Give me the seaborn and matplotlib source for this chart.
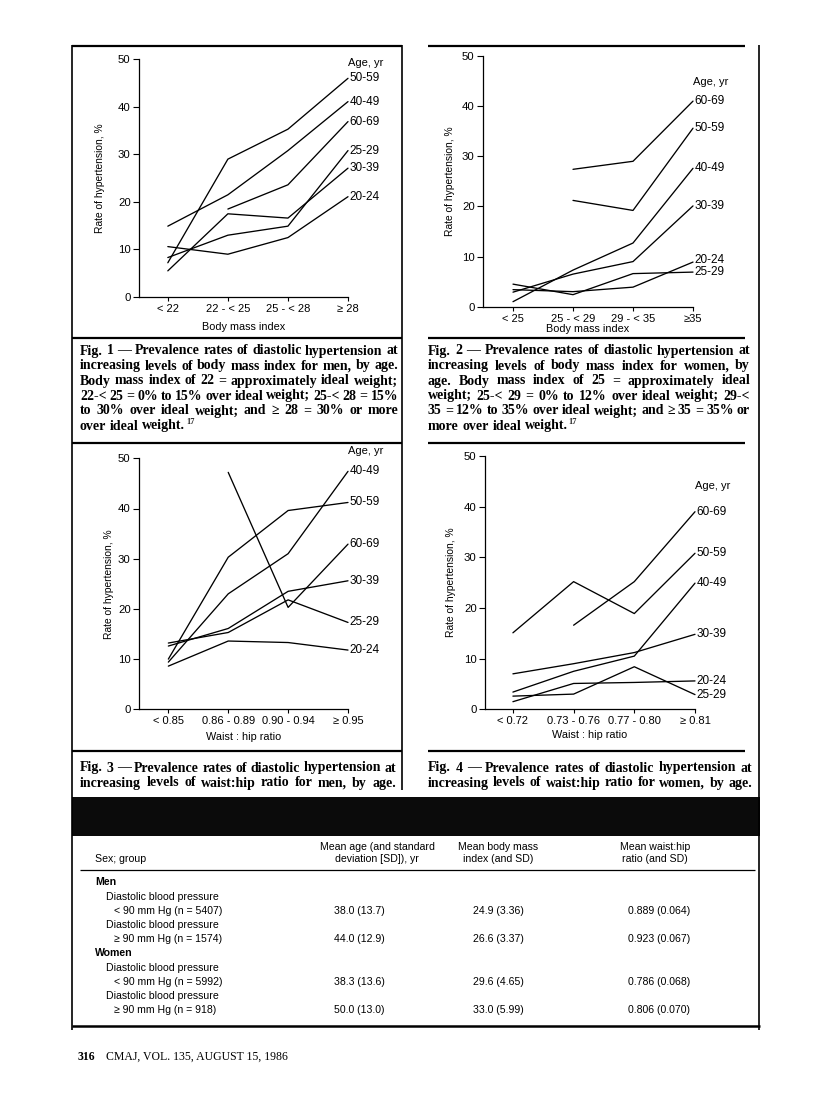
import numpy as np
import pandas as pd
import matplotlib
matplotlib.use("Agg")
import matplotlib.pyplot as plt
import seaborn as sns
from matplotlib import font_manager

# age groups, same in all four figures
ages = ["20-24", "25-29", "30-39", "40-49", "50-59", "60-69"]

# Fig 1 - men, body mass index (rate of hypertension, %)
bmi_men_levels = ["< 22", "22 - < 25", "25 - < 28", "≥ 28"]
bmi_men = {
    "20-24": [10.6, 9.0, 12.5, 21.1],
    "25-29": [8.3, 13.0, 14.9, 30.8],
    "30-39": [5.5, 17.5, 16.6, 27.1],
    "40-49": [14.9, 21.5, 30.8, 41.1],
    "50-59": [7.2, 29.0, 35.3, 46.0],
    "60-69": [np.nan, 18.5, 23.6, 36.9],
}

# Fig 2 - women, body mass index
bmi_women_levels = ["< 25", "25 - < 29", "29 - < 35", "≥35"]
bmi_women = {
    "20-24": [3.4, 3.0, 3.9, 8.9],
    "25-29": [4.5, 2.4, 6.6, 6.9],
    "30-39": [2.9, 6.5, 9.0, 20.1],
    "40-49": [1.0, 7.3, 12.7, 27.6],
    "50-59": [np.nan, 21.2, 19.2, 35.6],
    "60-69": [np.nan, 27.4, 29.0, 41.0],
}

# Fig 3 - men, waist:hip ratio
whr_men_levels = ["< 0.85", "0.86 - 0.89", "0.90 - 0.94", "≥ 0.95"]
whr_men = {
    "20-24": [8.6, 13.6, 13.3, 11.8],
    "25-29": [13.2, 15.3, 21.8, 17.3],
    "30-39": [12.6, 16.1, 23.5, 25.6],
    "40-49": [9.4, 23.0, 31.0, 47.4],
    "50-59": [10.0, 30.3, 39.6, 41.2],
    "60-69": [np.nan, 47.2, 20.3, 32.9],
}

# Fig 4 - women, waist:hip ratio
whr_women_levels = ["< 0.72", "0.73 - 0.76", "0.77 - 0.80", "≥ 0.81"]
whr_women = {
    "20-24": [1.5, 5.1, 5.3, 5.6],
    "25-29": [2.6, 3.0, 8.4, 2.9],
    "30-39": [7.0, 9.0, 11.2, 14.8],
    "40-49": [3.4, 7.5, 10.5, 24.9],
    "50-59": [15.1, 25.2, 18.9, 30.8],
    "60-69": [np.nan, 16.6, 25.2, 39.0],
}

# table
table_head = ["Sex; group",
              "Mean age (and standard\ndeviation [SD]), yr",
              "Mean body mass\nindex (and SD)",
              "Mean waist:hip\nratio (and SD)"]
table_groups = ["< 90 mm Hg (n = 5407)", "≥ 90 mm Hg (n = 1574)",
                "< 90 mm Hg (n = 5992)", "≥ 90 mm Hg (n = 918)"]
mean_age = ["38.0 (13.7)", "44.0 (12.9)", "38.3 (13.6)", "50.0 (13.0)"]
mean_bmi = ["24.9 (3.36)", "26.6 (3.37)", "29.6 (4.65)", "33.0 (5.99)"]
mean_whr = ["0.889 (0.064)", "0.923 (0.067)", "0.786 (0.068)", "0.806 (0.070)"]

cap1 = ["Fig. 1 — Prevalence rates of diastolic hypertension at",
        "increasing levels of body mass index for men, by age.",
        "Body mass index of 22 = approximately ideal weight;",
        "22-< 25 = 0% to 15% over ideal weight; 25-< 28 = 15%",
        "to 30% over ideal weight; and ≥ 28 = 30% or more",
        "over ideal weight.^17"]
cap2 = ["Fig. 2 — Prevalence rates of diastolic hypertension at",
        "increasing levels of body mass index for women, by",
        "age. Body mass index of 25 = approximately ideal",
        "weight; 25-< 29 = 0% to 12% over ideal weight; 29-<",
        "35 = 12% to 35% over ideal weight; and ≥ 35 = 35% or",
        "more over ideal weight.^17"]
cap3 = ["Fig. 3 — Prevalence rates of diastolic hypertension at",
        "increasing levels of waist:hip ratio for men, by age."]
cap4 = ["Fig. 4 — Prevalence rates of diastolic hypertension at",
        "increasing levels of waist:hip ratio for women, by age."]

sns.set_theme(style="white")
names = {f.name for f in font_manager.fontManager.ttflist}
narrow = "Liberation Sans Narrow" if "Liberation Sans Narrow" in names else "Liberation Sans"
plt.rcParams["font.family"] = [narrow, "DejaVu Sans"]

W, H = 816, 1100
fig = plt.figure(figsize=(W / 100, H / 100), dpi=100)
fig.patch.set_facecolor("white")

# page overlay in pixel coordinates
page = fig.add_axes([0, 0, 1, 1], zorder=-1)
page.set_xlim(0, W)
page.set_ylim(H, 0)
page.axis("off")


def rule(x0, x1, y, lw=1.6):
    page.plot([x0, x1], [y, y], color="black", lw=lw, solid_capstyle="butt")


def vline(x, y0, y1, lw=1.2):
    page.plot([x, x], [y0, y1], color="black", lw=lw, solid_capstyle="butt")


def draw_panel(box, levels, series, xlabel, pad, age_y, xlpad, ylpad):
    left, top, right, bottom = box
    ax = fig.add_axes([left / W, 1 - bottom / H, (right - left) / W, (bottom - top) / H])
    df = pd.DataFrame(series)
    df["level"] = range(len(levels))
    long = df.melt(id_vars="level", var_name="age", value_name="rate").dropna()
    sns.lineplot(data=long, x="level", y="rate", hue="age", estimator=None,
                 palette={a: "black" for a in ages}, linewidth=0.95,
                 legend=False, ax=ax)
    for ln in ax.lines:
        ln.set_clip_on(False)
    ax.set_xlim(-pad, len(levels) - 1)
    ax.set_ylim(0, 50)
    ax.set_facecolor("none")
    sns.despine(ax=ax)
    for s in ("left", "bottom"):
        ax.spines[s].set_color("black")
        ax.spines[s].set_linewidth(0.9)
    ax.set_yticks(range(0, 51, 10))
    ax.set_xticks(range(len(levels)))
    ax.set_xticklabels(levels)
    ax.tick_params(axis="y", direction="out", length=4, width=0.8, pad=2,
                   labelsize=8.2, left=True, colors="black")
    ax.tick_params(axis="x", direction="out", length=3, width=0.8, pad=2,
                   labelsize=8, bottom=True, colors="black")
    ax.set_xlabel(xlabel, fontsize=7.8, labelpad=xlpad, color="black")
    ax.set_ylabel("Rate of hypertension, %", fontsize=7.4, labelpad=ylpad, color="black")

    # age labels at line ends, nudged apart where they collide
    ends = sorted((series[a][-1], a) for a in ages)
    prev = None
    for v, a in ends:
        y = v if prev is None else max(v, prev + 2.5)
        prev = y
        ax.text(len(levels) - 1 + 0.03, y, a, fontsize=8.5, va="center",
                ha="left", clip_on=False, color="black")
    ax.text(len(levels) - 1, age_y, "Age, yr", fontsize=8, va="center",
            ha="left", clip_on=False, color="black")
    return ax


draw_panel((139, 59.3, 348, 297), bmi_men_levels, bmi_men, "Body mass index",
           0.48, 49.3, 6, 9)
draw_panel((483, 56, 693, 306.7), bmi_women_levels, bmi_women, "Body mass index",
           0.5, 44.9, 0, 5)
draw_panel((139, 458.3, 348, 709.3), whr_men_levels, whr_men, "Waist : hip ratio",
           0.49, 51.5, 4, 3)
draw_panel((485, 456, 695, 709.3), whr_women_levels, whr_women, "Waist : hip ratio",
           0.46, 44.0, 3, 6)

# frame rules
vline(72, 45, 1030)
vline(402, 45, 790)
vline(759, 45, 1030)
for y in (46, 338, 443, 751):
    rule(72, 402, y)
    rule(428, 745, y)

renderer = fig.canvas.get_renderer()
cap_kw = dict(family=["Liberation Serif", "DejaVu Serif"], weight="bold",
              size=10.0, va="center", ha="left", color="black")


def caption(lines, x0, x1, y0, justify_last=False, step=15):
    for i, line in enumerate(lines):
        y = y0 + i * step
        last = i == len(lines) - 1
        sup = None
        if line.endswith("^17"):
            line, sup = line[:-3], "17"
        words = line.split(" ")
        arts = [page.text(0, y, w, **cap_kw) for w in words]
        widths = [a.get_window_extent(renderer).width for a in arts]
        gap = 3.6
        if (not last or justify_last) and len(words) > 1:
            gap = max(2.5, (x1 - x0 - sum(widths)) / (len(words) - 1))
        x = x0
        for a, w in zip(arts, widths):
            a.set_x(x)
            x += w + gap
        if sup:
            page.text(x - gap + 1, y - 4, sup, family=cap_kw["family"],
                      weight="bold", size=6, va="center", ha="left")


caption(cap1, 80, 398, 351)
caption(cap2, 428, 750, 351)
caption(cap3, 80, 396, 768, justify_last=True)
caption(cap4, 428, 752, 768, justify_last=True)

# table
page.add_patch(plt.Rectangle((72, 797), 688, 39, color="#0b0b0b", lw=0))
tab_kw = dict(family=["Liberation Sans", "DejaVu Sans"], size=7.6, color="black",
              va="center")
col_x = [377, 498, 655]
val_x = [359, 498, 659]
page.text(95, 859, table_head[0], ha="left", **tab_kw)
for cx, head in zip(col_x, table_head[1:]):
    page.text(cx, 853, head, ha="center", linespacing=1.25, **tab_kw)
rule(80, 755, 870, lw=0.9)

row_y = [911, 939, 982, 1010]
page.text(95, 882, "Men", ha="left", weight="bold", **tab_kw)
page.text(95, 953, "Women", ha="left", weight="bold", **tab_kw)
for i, y in enumerate(row_y):
    page.text(106, y - 14, "Diastolic blood pressure", ha="left", **tab_kw)
    page.text(114, y, table_groups[i], ha="left", **tab_kw)
    for vx, col in zip(val_x, (mean_age, mean_bmi, mean_whr)):
        page.text(vx, y, col[i], ha="center", **tab_kw)
rule(72, 760, 1026, lw=1.8)

foot_kw = dict(family=["Liberation Serif", "DejaVu Serif"], size=8.5, va="center",
               ha="left", color="black")
page.text(78, 1057, "316", weight="bold", **foot_kw)
page.text(106, 1057, "CMAJ, VOL. 135, AUGUST 15, 1986", **foot_kw)

fig.savefig("out.png", dpi=100, facecolor="white")
plt.close(fig)
